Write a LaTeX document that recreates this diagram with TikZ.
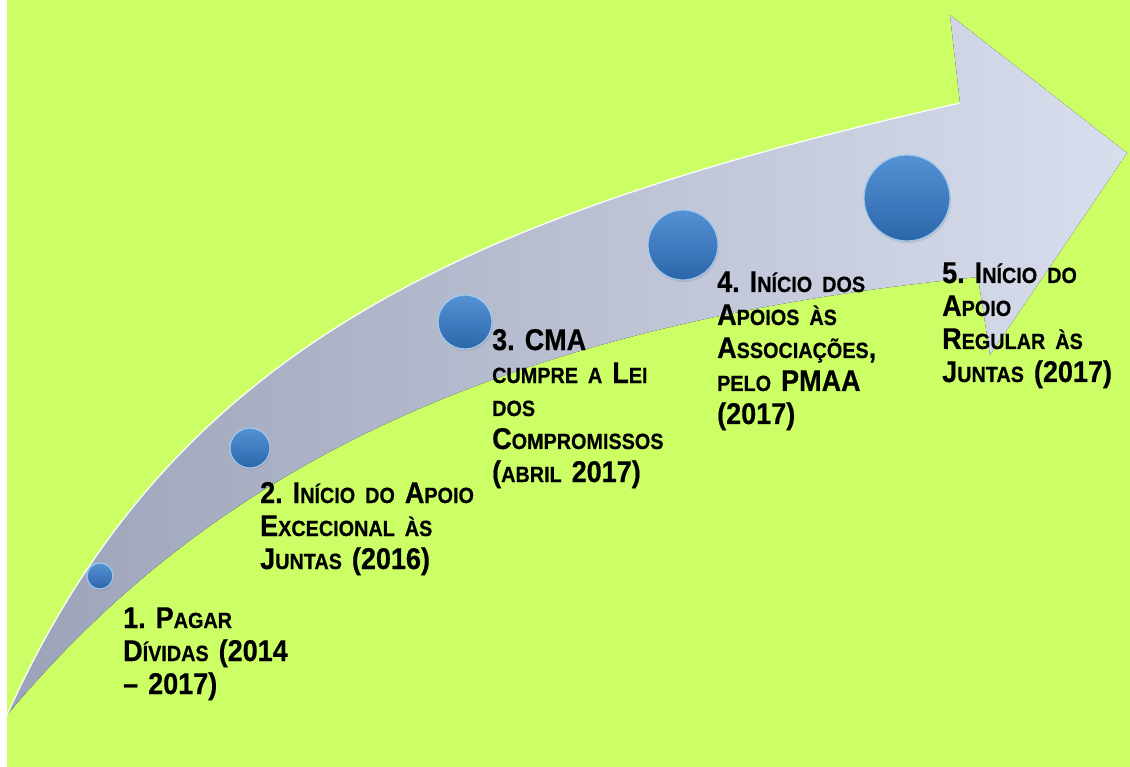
\documentclass[tikz,border=0pt]{standalone}
\usepackage{fontspec}
\setmainfont{Liberation Sans}[FakeStretch=0.9, BoldFeatures={FakeBold=0.6}]
\usetikzlibrary{shadows}
\definecolor{bggreen}{RGB}{204, 255, 102}
\definecolor{shaftdark}{RGB}{156, 162, 184}
\definecolor{shaftmid}{RGB}{192, 198, 214}
\definecolor{shaftlight}{RGB}{216, 222, 236}
\definecolor{balltop}{RGB}{84, 146, 212}
\definecolor{ballbot}{RGB}{44, 102, 170}
\definecolor{ballrim}{RGB}{160, 200, 238}
\newcommand\sml[1]{{\fontsize{22}{33}\selectfont #1}}
\frenchspacing
\tikzset{
    ball/.style={
        circle, inner sep=0pt, draw=ballrim, line width=1.2pt,
        top color=balltop, bottom color=ballbot,
        drop shadow={opacity=0.25, shadow xshift=1pt, shadow yshift=-2pt}
    },
    steplabel/.style={
        anchor=base west, inner sep=0pt, text width=300pt, align=left,
        font=\fontsize{30}{33}\selectfont\bfseries, text=black
    },
}
\begin{document}
\begin{tikzpicture}[x=1pt, y=-1pt]
    \useasboundingbox (0,0) rectangle (1130,767);
    \fill[white] (0,0) rectangle (1130,767);
    \fill[bggreen] (7,0) rectangle (1130,767);

    \fill[left color=shaftdark, middle color=shaftmid, right color=shaftlight]
        (7,715) .. controls (171,351) and (456,217) .. (960,103)
        -- (950,15) -- (1127,153) -- (990,355) -- (978,277)
        .. controls (500,325) and (212,469) .. (7,715) -- cycle;
    \draw[white, line width=1.2pt]
        (7,715) .. controls (171,351) and (456,217) .. (960,103);

    \node[ball, minimum size=26pt] (s1) at (100,576) {};
    \node[ball, minimum size=40pt] (s2) at (250,448) {};
    \node[ball, minimum size=54pt] (s3) at (465,322) {};
    \node[ball, minimum size=70pt] (s4) at (683,245) {};
    \node[ball, minimum size=86pt] (s5) at (907,198) {};

    \node[steplabel] (t1) at (123,628) {1. P\sml{AGAR}\\D\sml{ÍVIDAS} (2014\\– 2017)};
    \node[steplabel] (t2) at (260,503) {2. I\sml{NÍCIO DO} A\sml{POIO}\\E\sml{XCECIONAL ÀS}\\J\sml{UNTAS} (2016)};
    \node[steplabel] (t3) at (492,350) {3. CMA\\\sml{CUMPRE A} L\sml{EI}\\\sml{DOS}\\C\sml{OMPROMISSOS}\\(\sml{ABRIL} 2017)};
    \node[steplabel] (t4) at (717,292) {4. I\sml{NÍCIO DOS}\\A\sml{POIOS ÀS}\\A\sml{SSOCIAÇÕES},\\\sml{PELO} PMAA\\(2017)};
    \node[steplabel] (t5) at (942,283) {5. I\sml{NÍCIO DO}\\A\sml{POIO}\\R\sml{EGULAR ÀS}\\J\sml{UNTAS} (2017)};
\end{tikzpicture}
\end{document}
